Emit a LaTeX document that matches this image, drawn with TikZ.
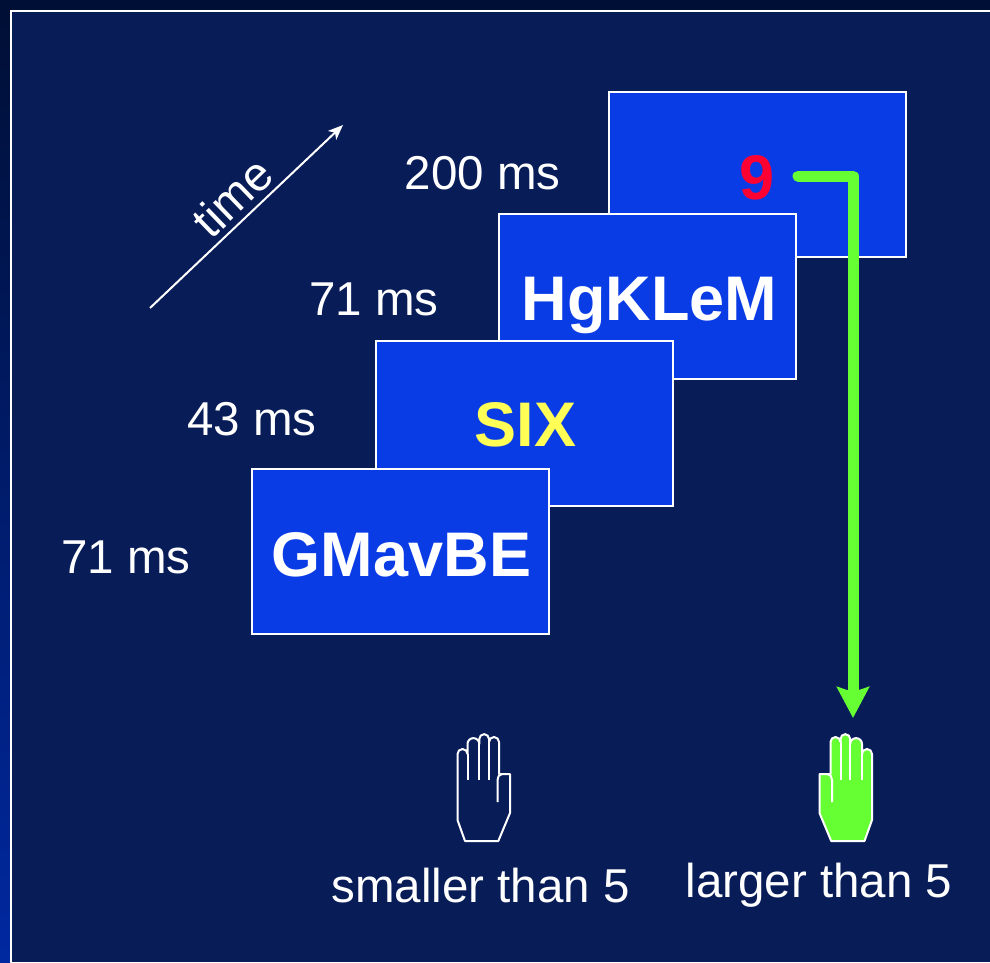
\documentclass[tikz,border=0pt]{standalone}
\usepackage{fontspec}
\setmainfont{Liberation Sans}
\usetikzlibrary{arrows.meta}
\definecolor{bgblue}{HTML}{081C58}
\definecolor{bandtop}{HTML}{000F35}
\definecolor{bandbot}{HTML}{0028A0}
\definecolor{boxblue}{HTML}{0A3CE6}
\definecolor{hgreen}{HTML}{66FF33}
\definecolor{digred}{HTML}{FF0033}
\definecolor{siyellow}{HTML}{FFFF55}
\tikzset{
  stimbox/.style={draw=white, line width=2pt, fill=boxblue, minimum width=297pt, minimum height=165pt, inner sep=0pt},
  mslabel/.style={text=white, anchor=base, inner sep=0pt, font=\fontsize{47.5}{50}\selectfont},
  stimtext/.style={anchor=base, inner sep=0pt, font=\fontsize{63}{66}\selectfont\bfseries},
  handline/.style={draw=white, line width=2pt, line join=round},
}
\begin{document}
\begin{tikzpicture}[x=1pt,y=-1pt]
\useasboundingbox (0,0) rectangle (990,962);
% frame
\fill[bandtop] (0,0) rectangle (990,10);
\shade[top color=bandtop, bottom color=bandbot] (0,10) rectangle (10,962);
\fill[bgblue] (11,11) rectangle (990,962);
\draw[white, line width=2.5pt] (11,962) -- (11,11) -- (990,11);

% time arrow
\coordinate (t0) at (150,308);
\coordinate (t1) at (343,125);
\draw[white, line width=2pt, -{Stealth[length=15pt,width=12pt,inset=4pt]}] (t0) -- (t1);
\node[text=white, inner sep=0pt, rotate=44, font=\fontsize{47.5}{50}\selectfont] (time) at (232,197) {time};

% stimulus boxes (back to front)
\node[stimbox] (b9) at (757,174.5) {};
\node[stimbox] (b3) at (647.5,296) {};
\node[stimbox] (b2) at (524,423.5) {};
\node[stimbox] (b1) at (400,551) {};

\node[stimtext, text=digred] (n9) at (757.5,199) {9};
\node[stimtext, text=white] (t3) at (649.5,320) {HgKLeM};
\node[stimtext, text=siyellow] (t2) at (525.5,446) {SIX};
\node[stimtext, text=white] (t1txt) at (401.5,576) {GMavBE};

% durations
\node[mslabel] (d9) at (482.5,189) {200 ms};
\node[mslabel] (d3) at (374,315) {71 ms};
\node[mslabel] (d2) at (252,435) {43 ms};
\node[mslabel] (d1) at (126,573) {71 ms};

% green response arrow
\coordinate (gstart) at (798,176);
\coordinate (gend) at (853,718);
\draw[hgreen, line width=11pt, line cap=round, line join=round,
      -{Stealth[length=31pt,width=32pt,inset=5pt]}] (gstart) -| (gend);

% white hand (smaller than 5)
\begin{scope}[shift={(457.5,841)}, y=1pt]
  \draw[handline] (7.5,0) -- (0,21) -- (0,87) arc[start angle=180,end angle=0,radius=5]
    -- (10,97) arc[start angle=180,end angle=0,radius=5.9]
    -- (21.8,102) arc[start angle=180,end angle=0,radius=4.85]
    -- (31.5,99) arc[start angle=180,end angle=0,radius=5]
    -- (41.5,67) -- (52.5,67) -- (52.5,28) -- (40.8,0) -- cycle;
  \draw[handline] (10,87) -- (10,61);
  \draw[handline] (21.8,97) -- (21.8,61);
  \draw[handline] (31.5,99) -- (31.5,61);
  \draw[handline] (44.5,67) to[out=180,in=90] (40,61) -- (40,39);
\end{scope}

% green hand (larger than 5), mirrored
\begin{scope}[shift={(872,841)}, y=1pt, xscale=-1]
  \draw[handline, fill=hgreen] (7.5,0) -- (0,21) -- (0,87) arc[start angle=180,end angle=0,radius=5]
    -- (10,97) arc[start angle=180,end angle=0,radius=5.9]
    -- (21.8,102) arc[start angle=180,end angle=0,radius=4.85]
    -- (31.5,99) arc[start angle=180,end angle=0,radius=5]
    -- (41.5,67) -- (52.5,67) -- (52.5,28) -- (40.8,0) -- cycle;
  \draw[handline] (10,87) -- (10,61);
  \draw[handline] (21.8,97) -- (21.8,61);
  \draw[handline] (31.5,99) -- (31.5,61);
  \draw[handline] (44.5,67) to[out=180,in=90] (40,61) -- (40,39);
\end{scope}

\node[mslabel] (small) at (480.5,902) {smaller than 5};
\node[mslabel] (large) at (819,897) {larger than 5};
\end{tikzpicture}
\end{document}
